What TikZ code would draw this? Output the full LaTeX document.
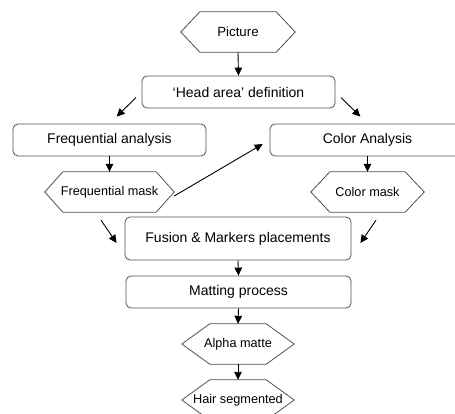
\documentclass[tikz,border=0pt]{standalone}
\usepackage{fontspec}
\setmainfont{Liberation Sans}
\usetikzlibrary{arrows.meta,calc}
\definecolor{boxgray}{RGB}{80,80,80}
\newcommand\hexoutline[2]{\draw[hexline] (#1.west) -- ([xshift=#2]#1.north west) -- ([xshift=-#2]#1.north east) -- (#1.east) -- ([xshift=-#2]#1.south east) -- ([xshift=#2]#1.south west) -- cycle;}
\begin{document}
\begin{tikzpicture}[x=1pt,y=-1pt,
  box/.style={draw=boxgray, line width=0.8pt, rounded corners=5pt, inner sep=0pt, minimum height=32pt, font=\fontsize{14}{16}\selectfont},
  hex/.style={inner sep=0pt, minimum height=40pt, font=\fontsize{12.7}{15}\selectfont},
  hexline/.style={draw=boxgray, line width=0.8pt},
  arr/.style={draw=black, line width=0.9pt, -{Triangle[length=8pt,width=7.5pt]}}]
\useasboundingbox (0,0) rectangle (455,414);
\begin{scope}
\clip (0,0) rectangle (455,414);
% nodes
\node[hex, minimum width=114pt, font=\fontsize{13.3}{15}\selectfont] (pic) at (238,32) {Picture};
\node[box, minimum width=193pt] (head) at (238.5,92) {‘Head area’ definition};
\node[box, minimum width=193pt] (freq) at (109.5,140) {Frequential analysis};
\node[box, minimum width=195pt] (color) at (367.5,140) {Color Analysis};
\node[hex, minimum width=129pt] (fmask) at (109.5,192) {Frequential mask};
\node[hex, minimum width=113pt] (cmask) at (367.5,192) {Color mask};
\node[box, minimum width=226pt, minimum height=43pt] (fusion) at (238,238.5) {Fusion \& Markers placements};
\node[box, minimum width=225pt] (matting) at (238.5,292) {Matting process};
\node[hex, minimum width=112pt] (alpha) at (238,344) {Alpha matte};
\node[hex, minimum width=112pt] (hair) at (238,400) {Hair segmented};
\hexoutline{pic}{19pt}
\hexoutline{fmask}{18pt}
\hexoutline{cmask}{19pt}
\hexoutline{alpha}{28pt}
\hexoutline{hair}{28pt}
% connectors
\draw[arr] (pic.south) -- (head.north);
\draw[arr, shorten <=8pt, shorten >=10pt] (head.west) -- (freq.north);
\draw[arr, shorten <=8pt, shorten >=10pt] (head.east) -- (color.north);
\draw[arr] (freq.south) -- (fmask.north);
\draw[arr] (color.south) -- (cmask.north);
\draw[arr, shorten >=8pt] ($(fmask.east)+(0,4)$) -- (color.west);
\draw[arr] ($(fmask.south)+(-8.5,8)$) -- ($(fusion.west)+(-8,4.5)$);
\draw[arr] ($(cmask.south)+(8.5,8)$) -- ($(fusion.east)+(9,4.5)$);
\draw[arr] (fusion.south) -- (matting.north);
\draw[arr] (matting.south) -- (alpha.north);
\draw[arr] (alpha.south) -- (hair.north);
\end{scope}
\end{tikzpicture}
\end{document}
